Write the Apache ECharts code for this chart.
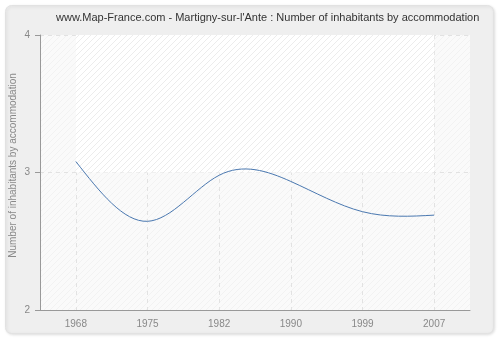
<!DOCTYPE html>
<html><head><meta charset="utf-8">
<script src="https://cdn.jsdelivr.net/npm/echarts@6/dist/echarts.min.js"></script>
<style>html,body{margin:0;padding:0;background:#fff}#c{width:500px;height:340px}</style>
</head><body><div id="c"></div>
<script>
const titleText = "www.Map-France.com - Martigny-sur-l'Ante : Number of inhabitants by accommodation";
const yAxisName = "Number of inhabitants by accommodation";
const years = ["1968", "1975", "1982", "1990", "1999", "2007"];
const values = [3.08, 2.645, 2.98, 2.935, 2.715, 2.69];
const yMin = 2, yMax = 4, yStep = 1;

function hatch(bg, line) {
  const c = document.createElement('canvas');
  c.width = 6; c.height = 6;
  const g = c.getContext('2d');
  g.fillStyle = bg; g.fillRect(0, 0, 6, 6);
  g.strokeStyle = line; g.lineWidth = 1;
  g.beginPath(); g.moveTo(0, 6); g.lineTo(6, 0); g.stroke();
  g.beginPath(); g.moveTo(-1, 1); g.lineTo(1, -1); g.stroke();
  g.beginPath(); g.moveTo(5, 7); g.lineTo(7, 5); g.stroke();
  return c;
}

// natural cubic spline through pixel points -> SVG bezier path
function splinePath(pts) {
  const n = pts.length;
  const xs = pts.map(p => p[0]), ys = pts.map(p => p[1]);
  const h = [];
  for (let i = 0; i < n - 1; i++) h.push(xs[i + 1] - xs[i]);
  const M = new Array(n).fill(0);
  if (n > 2) {
    const a = [], b = [], c = [], d = [];
    for (let i = 1; i < n - 1; i++) {
      a.push(h[i - 1]); b.push(2 * (h[i - 1] + h[i])); c.push(h[i]);
      d.push(6 * ((ys[i + 1] - ys[i]) / h[i] - (ys[i] - ys[i - 1]) / h[i - 1]));
    }
    const m = b.length;
    for (let i = 1; i < m; i++) {
      const w = a[i] / b[i - 1];
      b[i] -= w * c[i - 1]; d[i] -= w * d[i - 1];
    }
    const sol = new Array(m);
    sol[m - 1] = d[m - 1] / b[m - 1];
    for (let i = m - 2; i >= 0; i--) sol[i] = (d[i] - c[i] * sol[i + 1]) / b[i];
    for (let i = 0; i < m; i++) M[i + 1] = sol[i];
  }
  let path = 'M' + xs[0] + ' ' + ys[0];
  for (let i = 0; i < n - 1; i++) {
    const s = (ys[i + 1] - ys[i]) / h[i];
    const mL = s - h[i] * (2 * M[i] + M[i + 1]) / 6;
    const mR = s + h[i] * (M[i] + 2 * M[i + 1]) / 6;
    const c1x = xs[i] + h[i] / 3, c1y = ys[i] + mL * h[i] / 3;
    const c2x = xs[i + 1] - h[i] / 3, c2y = ys[i + 1] - mR * h[i] / 3;
    path += ' C' + c1x + ' ' + c1y + ' ' + c2x + ' ' + c2y + ' ' + xs[i + 1] + ' ' + ys[i + 1];
  }
  return path;
}

const chart = echarts.init(document.getElementById('c'), null, {renderer: 'canvas'});
const font = 'Liberation Sans';
chart.setOption({
  animation: false,
  textStyle: {fontFamily: font},
  graphic: [{
    type: 'rect', z: -10, silent: true,
    shape: {x: 5.5, y: 5.5, width: 488, height: 328, r: 6},
    style: {fill: '#efefef', stroke: '#e2e2e2', lineWidth: 1,
            shadowBlur: 3, shadowOffsetX: 1, shadowOffsetY: 1, shadowColor: 'rgba(0,0,0,0.12)'}
  }],
  title: {
    text: titleText, left: 56, top: 12, padding: 0,
    textStyle: {fontFamily: font, fontSize: 11, fontWeight: 'normal', color: '#333'}
  },
  grid: {left: 40, right: 30, top: 35, bottom: 30, show: true, outerBoundsMode: 'none', containLabel: false,
         backgroundColor: {image: hatch('#fafafa', '#f2f2f2'), repeat: 'repeat'}, borderWidth: 0},
  xAxis: {
    type: 'category', data: years, boundaryGap: true,
    axisLine: {lineStyle: {color: '#999'}},
    axisTick: {alignWithLabel: true, length: 5, lineStyle: {color: '#999'}},
    axisLabel: {color: '#888', fontSize: 10, margin: 9, fontFamily: font},
    splitLine: {show: true, alignWithLabel: true, lineStyle: {color: '#e2e2e2', type: [4, 4]}}
  },
  yAxis: {
    type: 'value', min: yMin, max: yMax, interval: yStep,
    name: yAxisName, nameLocation: 'middle', nameGap: 22, nameMoveOverlap: false,
    nameTextStyle: {color: '#888', fontSize: 10, fontFamily: font, padding: [0, 0, 0, 14]},
    axisLine: {show: true, lineStyle: {color: '#999'}},
    axisTick: {show: true, length: 5, lineStyle: {color: '#999'}},
    axisLabel: {color: '#888', fontSize: 10, margin: 10, fontFamily: font},
    splitLine: {show: true, lineStyle: {color: '#e2e2e2', type: [4, 4]}}
  },
  series: [{
    type: 'custom', clip: false,
    data: values.map((v, i) => [i, v]),
    encode: {x: 0, y: 1},
    renderItem: function (params, api) {
      if (params.dataIndex !== 0) return null;
      const pts = values.map((v, i) => api.coord([i, v]));
      return {
        type: 'path',
        shape: {pathData: splinePath(pts)},
        style: {stroke: '#4a78b0', lineWidth: 1, fill: null}
      };
    },
    markArea: {
      silent: true,
      itemStyle: {color: {image: hatch('#ffffff', '#ececec'), repeat: 'repeat'}},
      data: [[{yAxis: 3, xAxis: 'min'}, {yAxis: 4, xAxis: 'max'}]]
    }
  }]
});
</script></body></html>
